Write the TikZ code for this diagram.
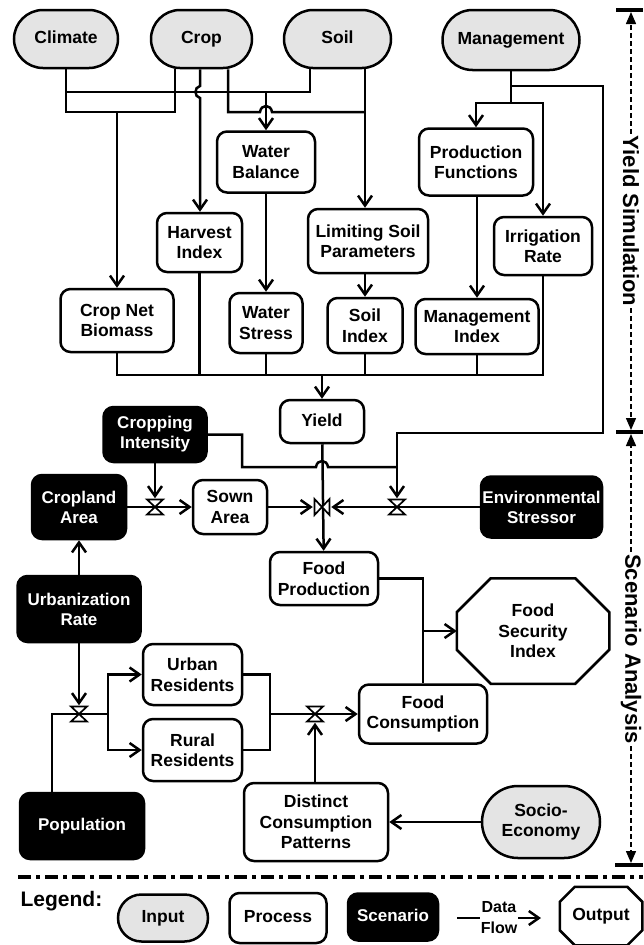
\documentclass[tikz,border=0pt]{standalone}
\usepackage{fontspec}
\setmainfont{Liberation Sans}
\usepackage{tikz}
\usetikzlibrary{arrows.meta,shapes.misc,calc}
\definecolor{inputgray}{HTML}{E4E4E4}
\newcommand{\boxfont}{\fontsize{17.5}{20.5}\selectfont\bfseries}
\newcommand{\scenfont}{\fontsize{17}{20}\selectfont\bfseries}
\newcommand{\sidefont}{\fontsize{22}{24}\selectfont\bfseries}
\newcommand{\legfont}{\fontsize{21}{24}\selectfont\bfseries}
\newcommand{\dffont}{\fontsize{16}{21}\selectfont\bfseries}
\newcommand{\octagonframe}[2]{%
  \draw ([xshift=#2]#1.north west) -- ([xshift=-#2]#1.north east)
     -- ([yshift=-#2]#1.north east) -- ([yshift=#2]#1.south east)
     -- ([xshift=-#2]#1.south east) -- ([xshift=#2]#1.south west)
     -- ([yshift=#2]#1.south west) -- ([yshift=-#2]#1.north west) -- cycle;}
\tikzset{
  valve/.pic={\draw[line width=1.7pt,fill=white] (-8,-7.5) -- (8,-7.5) -- (-8,7.5) -- (8,7.5) -- cycle;}
}

\begin{document}
\begin{tikzpicture}[x=1pt,y=-1pt,line width=2.5pt,
  sz/.style 2 args={minimum width=#1pt,minimum height=#2pt},
  oneline/.style={text height=12.5pt,text depth=3.5pt},
  input/.style={draw,fill=inputgray,rounded rectangle,font=\boxfont,align=center,inner sep=1pt},
  process/.style={draw,fill=white,rounded corners=10pt,font=\boxfont,align=center,inner sep=1pt},
  scenario/.style={draw,fill=black,text=white,rounded corners=10pt,font=\scenfont,align=center,inner sep=1pt},
  outbox/.style={font=\boxfont,align=center,inner sep=1pt},
  vnode/.style={inner sep=0pt,minimum width=16pt,minimum height=15pt},
  flow/.style={-{Straight Barb[length=10pt,width=14pt]}},
  dimline/.style={line width=1.4pt,dash pattern=on 5pt off 3pt,-{Triangle[length=12pt,width=10pt]}},
  sidelbl/.style={font=\sidefont,rotate=-90,fill=white,inner sep=1pt}
]
\useasboundingbox (0,0) rectangle (643,945);

% inputs
\node[input,oneline,sz={106}{58}] (climate) at (66,39) {Climate};
\node[input,oneline,sz={103}{58}] (crop) at (201.5,39) {Crop};
\node[input,oneline,sz={109}{58}] (soil) at (337.5,39) {Soil};
\node[input,oneline,sz={139}{60}] (mgmt) at (511,40) {Management};

% yield simulation
\node[process,sz={98}{61}] (wb) at (266,162) {Water\\Balance};
\node[process,sz={114}{67}] (pf) at (476,162) {Production\\Functions};
\node[process,sz={85}{59}] (hi) at (199.5,242.5) {Harvest\\Index};
\node[process,sz={120}{64}] (lsp) at (368,241) {Limiting Soil\\Parameters};
\node[process,sz={98}{58}] (ir) at (543,246) {Irrigation\\Rate};
\node[process,sz={113}{63}] (cnb) at (117,320.5) {Crop Net\\Biomass};
\node[process,sz={73}{60}] (ws) at (266,323) {Water\\Stress};
\node[process,sz={75}{55}] (si) at (365,325.5) {Soil\\Index};
\node[process,sz={123}{55}] (mi) at (477,326.5) {Management\\Index};
\node[process,oneline,sz={84}{43}] (yield) at (322,421.5) {Yield};

% scenario analysis
\node[scenario,sz={103}{55}] (ci) at (155,434.5) {Cropping\\Intensity};
\node[scenario,sz={94}{64}] (ca) at (79,507) {Cropland\\Area};
\node[process,sz={74}{54}] (sown) at (230,507) {Sown\\Area};
\node[scenario,sz={121}{61}] (es) at (541.5,507) {Environmental\\Stressor};
\node[process,sz={108}{53}] (fp) at (324,578.5) {Food\\Production};
\node[outbox,sz={150}{103}] (fsi) at (533,631) {Food\\Security\\Index};
\node[scenario,sz={123}{66}] (ur) at (79,609) {Urbanization\\Rate};
\node[process,sz={99}{61}] (urban) at (192.5,674.5) {Urban\\Residents};
\node[process,sz={99}{62}] (rural) at (192.5,750) {Rural\\Residents};
\node[process,sz={128}{59}] (fc) at (423,714) {Food\\Consumption};
\node[scenario,oneline,sz={124}{66}] (pop) at (82,826) {Population};
\node[process,sz={144}{78}] (dcp) at (316,822) {Distinct\\Consumption\\Patterns};
\node[input,sz={120}{72}] (socio) at (541,822) {Socio-\\Economy};

\node[vnode] (v1) at (155,507) {};
\node[vnode] (vc) at (322,507) {};
\node[vnode] (ve) at (397,507) {};
\node[vnode] (vp) at (79,714) {};
\node[vnode] (vf) at (315,714) {};

% inputs to processes
\draw (climate) |- (117,112) coordinate (cc) -| (175,0 |- crop.south);
\draw[flow] (cc) -- (cnb);
\draw (climate) |- (266,92) coordinate (cs) -| (310,0 |- soil.south);
\draw[flow] (cs) -- (wb);
\draw[flow] (200,0 |- crop.south) -- (200,86) .. controls (194,87) and (194,97) .. (200,98) -- (200,0 |- hi.north);
\draw (228,0 |- crop.south) |- (260,112) .. controls (261,104) and (271,104) .. (272,112) -- (365,112);
\draw[flow] (365,0 |- soil.south) -- (365,0 |- lsp.north);
\draw[flow] (mgmt) |- (476,103) -- (pf);
\draw[flow] (mgmt) |- (543,103) -- (ir);
\draw[flow] (mgmt) |- (603,86) |- (397,433) -- (ve);

\draw[flow] (wb) -- (ws);
\draw[flow] (si.north |- lsp.south) -- (si);
\draw[flow] (mi.north |- pf.south) -- (mi);

\coordinate (bus) at (322,375);
\draw (cnb) |- (bus) -| (ir);
\foreach \n in {hi,ws,si,mi} \draw (\n) -- (\n |- bus);
\draw[flow] (bus) -- (yield);

% scenario flows
\draw[flow] (yield) -- (fp);
\draw (ci) -| (242,467) -- (316,467) .. controls (317,459) and (327,459) .. (328,467) -- (397,467);
\draw[flow] (ci) -- (v1);
\draw[flow] (ca) -- (sown);
\draw[flow] (sown) -- (vc);
\draw[flow] (es) -- (vc);
\draw[flow] (ur) -- (ca);
\draw[flow] (ur) -- (vp);
\draw (52,0 |- pop.north) |- (108,714) coordinate (split);
\draw[flow] (split) |- (urban);
\draw[flow] (split) |- (rural);
\draw (urban) -| (270,714) coordinate (merge);
\draw (rural) -| (merge);
\draw[flow] (merge) -- (fc);
\draw[flow] (vf |- dcp.north) -- (vf);
\draw[flow] (socio) -- (dcp);
\draw (fp) -| (fc);
\draw[flow] (fc.north |- fsi.west) -- (fsi.west);

\foreach \v in {v1,ve,vp,vf} \pic at (\v) {valve};
\pic[rotate=90] at (vc) {valve};
\octagonframe{fsi}{34pt}

% side bars
\draw[line width=4pt] (616,10) -- (643,10);
\draw[line width=4pt] (616,432) -- (643,432);
\draw[line width=4pt] (615,865) -- (643,865);
\node[sidelbl] (ysim) at (631,221) {Yield Simulation};
\node[sidelbl] (scan) at (631,649) {Scenario Analysis};
\draw[dimline] (ysim) -- (631,12);
\draw[dimline] (ysim) -- (631,430);
\draw[dimline] (scan) -- (631,434);
\draw[dimline] (scan) -- (631,863);

% legend
\draw[line width=4pt,dash pattern=on 13pt off 5pt on 4pt off 5pt] (18,877) -- (643,877);
\node[anchor=west,font=\legfont] (legend) at (16,901) {Legend:};
\node[input,oneline,sz={92}{47}] (linput) at (163,918) {Input};
\node[process,oneline,sz={97}{50}] (lproc) at (278,918) {Process};
\node[scenario,oneline,sz={90}{47}] (lscen) at (393,917) {Scenario};
\coordinate (dfa) at (457,918);
\coordinate (dfb) at (541,918);
\draw[flow] (dfa) -- (dfb);
\node[font=\dffont,align=center,fill=white,inner sep=1pt] (dflbl) at (499,918) {Data\\Flow};
\node[outbox,oneline,sz={80}{56}] (lout) at (601,916) {Output};
\octagonframe{lout}{15pt}
\end{tikzpicture}
\end{document}
